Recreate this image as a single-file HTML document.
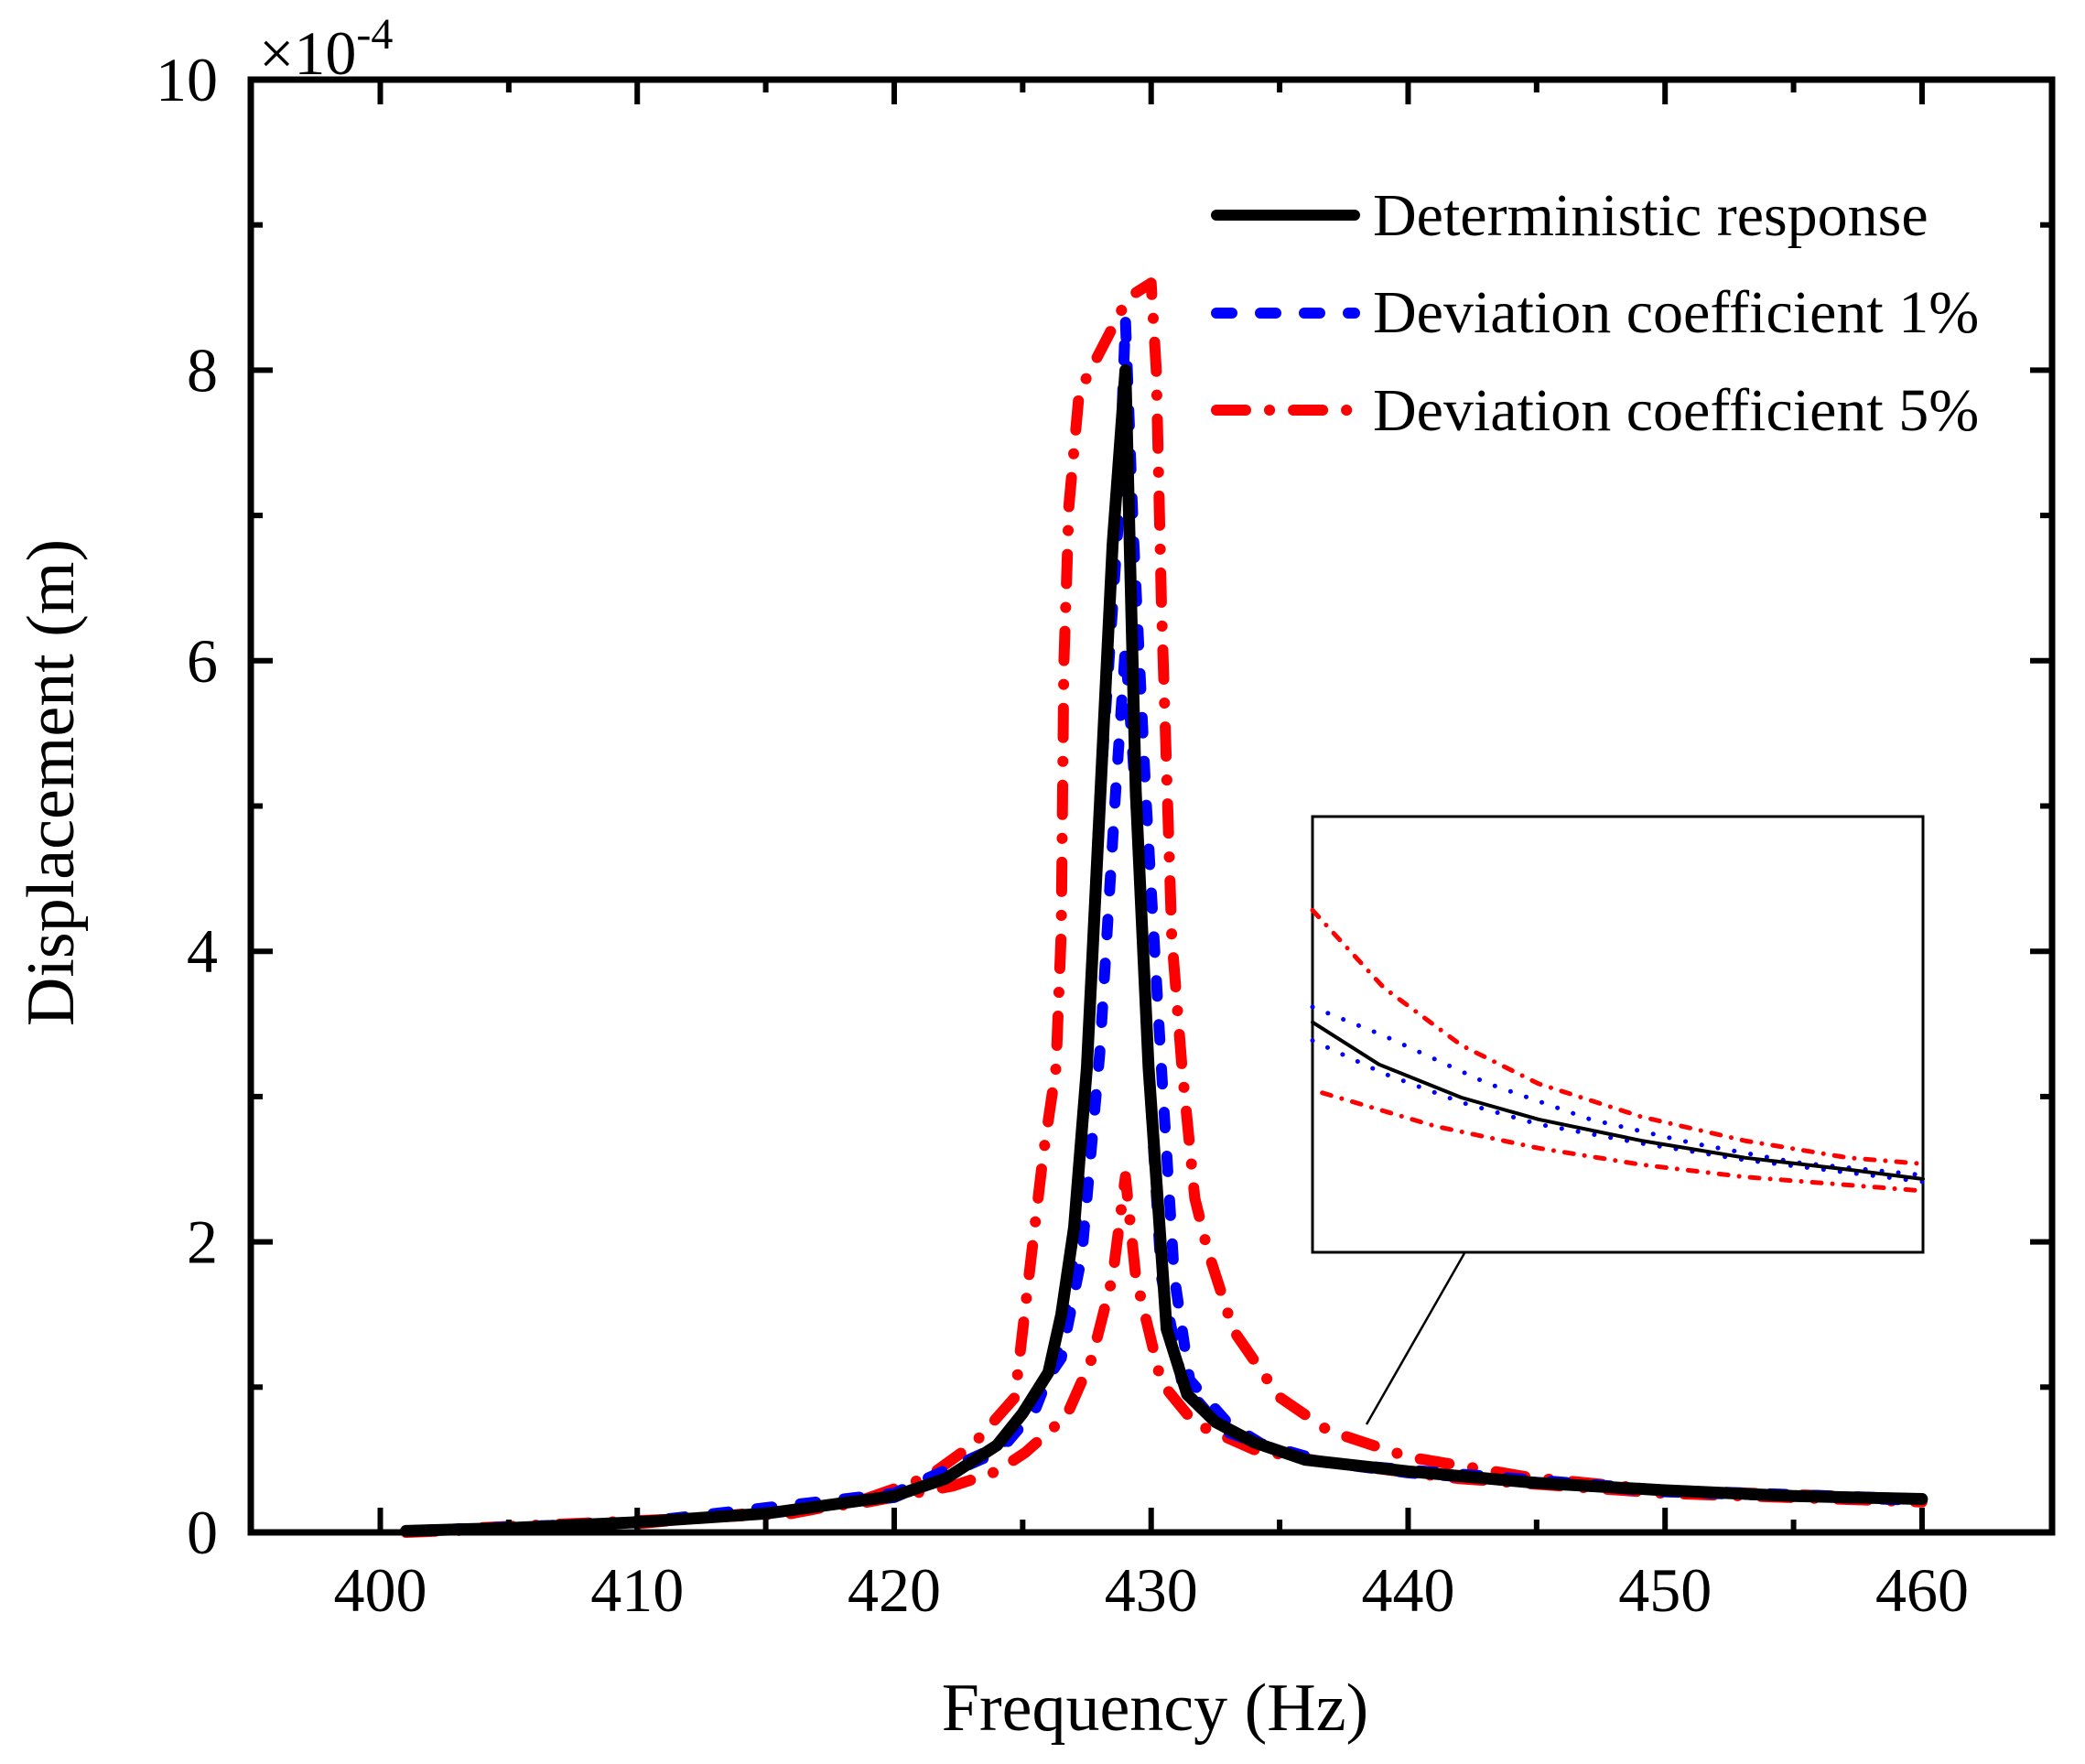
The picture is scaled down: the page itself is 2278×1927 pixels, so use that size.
<!DOCTYPE html>
<html><head><meta charset="utf-8"><style>
html,body{margin:0;padding:0;background:#fff;}
svg{display:block;font-family:"Liberation Serif",serif;}
</style></head><body>
<svg id="chart" width="2278" height="1927" viewBox="0 0 2278 1927" xmlns="http://www.w3.org/2000/svg">
<rect x="0" y="0" width="2278" height="1927" fill="#fff"/>
<g id="plot"></g>
<g id="axes"></g>
<text transform="translate(80,855) rotate(-90)" text-anchor="middle" font-size="74">Displacement (m)</text>
<text x="1262" y="1890" text-anchor="middle" font-size="74">Frequency (Hz)</text>
<text x="283" y="81" font-size="68">×10<tspan font-size="48" dy="-28">-4</tspan></text>
<g id="legend">
 <line x1="1329" y1="235" x2="1480" y2="235" stroke="#000" stroke-width="12" stroke-linecap="round"/>
 <text x="1500" y="257" font-size="66">Deterministic response</text>
 <line x1="1329" y1="342" x2="1480" y2="342" stroke="#00f" stroke-width="12" stroke-linecap="round" stroke-dasharray="17 31"/>
 <text x="1500" y="363" font-size="66">Deviation coefficient 1%</text>
 <line x1="1329" y1="448" x2="1480" y2="448" stroke="#f00" stroke-width="12" stroke-linecap="round" stroke-dasharray="32 26 0.1 26"/>
 <text x="1500" y="470" font-size="66">Deviation coefficient 5%</text>
</g>
<line x1="1493" y1="1556" x2="1600" y2="1369" stroke="#000" stroke-width="2.5"/>
<g id="inset"></g>
</svg>
<script>
// main chart data (displacement in 1e-4 m)
const detFreq = [401,405,410,415,420,422,424,425,426,426.5,427,427.5,428,428.5,429,429.4,429.9,430.6,431.4,432.5,434,436,440,445,450,455,460];
const detVal  = [0.01,0.03,0.07,0.13,0.25,0.37,0.6,0.82,1.1,1.5,2.1,3.2,5.0,6.8,8.0,5.1,3.2,1.4,0.95,0.76,0.62,0.5,0.42,0.34,0.29,0.25,0.23];
const d1UpFreq = [401,410,420,424.4,425.5,426.5,427,427.5,428,428.7,429,429.3,429.8,430.4,430.9,431.5,433,434.3,436.9,440,450,460];
const d1UpVal  = [0.01,0.07,0.27,0.62,0.85,1.3,1.9,3.2,5.05,6.9,8.35,6.9,5.05,3.2,1.76,1.05,0.75,0.61,0.48,0.43,0.29,0.23];
const d1LoFreq = [401,410,420,424,426.5,427.3,428,428.6,429,429.4,429.9,430.4,431.2,432.8,436,440,450,460];
const d1LoVal  = [0.01,0.07,0.24,0.55,1.2,1.9,3.3,5.05,6.1,5.05,3.2,1.76,1.03,0.7,0.5,0.41,0.28,0.22];
const d5UpFreq = [401,410,416,418.7,421.3,423.1,424.7,425.3,425.8,426.3,426.5,426.6,426.8,427.2,429.1,430,430.2,430.4,430.8,431.2,431.7,432.2,433.2,435,436.9,440,444.7,449.9,460];
const d5UpVal  = [0.01,0.08,0.13,0.22,0.38,0.61,0.93,1.85,2.6,3.2,4.14,5.97,7.07,7.85,8.5,8.6,8.0,6.4,4.1,3.2,2.3,1.94,1.39,0.93,0.7,0.52,0.38,0.29,0.23];
const d5LoFreq = [401,410,418.7,422.3,424,425.1,426.7,427.7,428.5,429,429.4,430.4,431.7,434,436.9,442,449.9,460];
const d5LoVal  = [0.0,0.06,0.2,0.32,0.42,0.55,0.8,1.2,1.76,2.45,1.76,1.03,0.75,0.57,0.48,0.37,0.27,0.21];
const xTicks = [400,410,420,430,440,450,460];
const yTicks = [0,2,4,6,8,10];
// inset data (normalized inset coords 0..1)
const inU = [0,0.109,0.244,0.370,0.539,0.708,0.877,1.0];
const inDet = [0.528,0.431,0.355,0.305,0.256,0.217,0.190,0.168];
const inB1U = [0,0.117,0.286,0.455,0.624,0.792,1];
const inB1V = [0.563,0.497,0.388,0.305,0.250,0.206,0.177];
const inB2U = [0,0.117,0.244,0.370,0.539,0.708,1];
const inB2V = [0.486,0.410,0.344,0.294,0.250,0.212,0.162];
const inR1U = [0,0.117,0.244,0.370,0.539,0.708,0.877,1];
const inR1V = [0.785,0.607,0.475,0.387,0.311,0.256,0.217,0.203];
const inR2U = [0.016,0.202,0.370,0.539,0.708,1];
const inR2V = [0.366,0.289,0.239,0.201,0.173,0.141];

const NS="http://www.w3.org/2000/svg";
const L=274,R=2242,T=87,B=1674,XMIN=394.96,XMAX=465.06,YMIN=0,YMAX=10;
const xs=f=>L+(f-XMIN)/(XMAX-XMIN)*(R-L);
const ys=v=>B-(v-YMIN)/(YMAX-YMIN)*(B-T);
function mk(tag,attrs,parent){const e=document.createElementNS(NS,tag);for(const k in attrs)e.setAttribute(k,attrs[k]);parent.appendChild(e);return e;}
function pathD(xa,ya,fx,fy){return xa.map((x,i)=>(i?'L':'M')+fx(x).toFixed(1)+' '+fy(ya[i]).toFixed(1)).join(' ');}
const plot=document.getElementById('plot');
function series(name,xa,ya,color,dash,w){
  const p=mk('path',{d:pathD(xa,ya,xs,ys),fill:'none',stroke:color,'stroke-width':w,'stroke-linecap':'round','stroke-linejoin':'round'},plot);
  if(dash)p.setAttribute('stroke-dasharray',dash);
  
  
}
series('dev5-upper-line',d5UpFreq,d5UpVal,'#f00','32 26 0.1 26',12);
series('dev5-lower-line',d5LoFreq,d5LoVal,'#f00','32 26 0.1 26',12);
series('dev1-upper-line',d1UpFreq,d1UpVal,'#00f','17 31',12);
series('dev1-lower-line',d1LoFreq,d1LoVal,'#00f','17 31',12);
series('deterministic-line',detFreq,detVal,'#000',null,13);

const axes=document.getElementById('axes');
const frame=mk('rect',{x:L,y:T,width:R-L,height:B-T,fill:'none',stroke:'#000','stroke-width':7},axes);


for(let f=400;f<=460;f+=5){
  const major=f%10===0, len=major?27:14, x=xs(f);
  const t1=mk('line',{x1:x,y1:B,x2:x,y2:B-len,stroke:'#000','stroke-width':6},axes);
  
  
  const t2=mk('line',{x1:x,y1:T,x2:x,y2:T+len,stroke:'#000','stroke-width':6},axes);
  
  
}
xTicks.forEach(f=>{
  const t=mk('text',{x:xs(f),y:1760,'text-anchor':'middle','font-size':68},axes);
  t.textContent=f;
  
  
});
for(let v=0;v<=10;v+=1){
  const major=v%2===0, len=major?24:13, y=ys(v);
  const t1=mk('line',{x1:L,y1:y,x2:L+len,y2:y,stroke:'#000','stroke-width':6},axes);
  
  
  const t2=mk('line',{x1:R,y1:y,x2:R-len,y2:y,stroke:'#000','stroke-width':6},axes);
  
  
}
yTicks.forEach(v=>{
  const t=mk('text',{x:238,y:ys(v)+23,'text-anchor':'end','font-size':68},axes);
  t.textContent=v;
  
  
});

// inset
const inset=document.getElementById('inset');
const IL=1434,IR=2101,IT=892,IB=1368;
const ix=u=>IL+u*(IR-IL), iy=v=>IB-v*(IB-IT);
const bg=mk('rect',{x:IL,y:IT,width:IR-IL,height:IB-IT,fill:'#fff',stroke:'#000','stroke-width':3},inset);


function iseries(name,ua,va,color,dash,w){
  const p=mk('path',{d:pathD(ua,va,ix,iy),fill:'none',stroke:color,'stroke-width':w,'stroke-linecap':'round','stroke-linejoin':'round'},inset);
  if(dash)p.setAttribute('stroke-dasharray',dash);
  
  
}
iseries('inset-dev5-upper',inR1U,inR1V,'#f00','10 12 0.1 12',5);
iseries('inset-dev5-lower',inR2U,inR2V,'#f00','10 12 0.1 12',5);
iseries('inset-dev1-upper',inB1U,inB1V,'#00f','0.1 18',5);
iseries('inset-dev1-lower',inB2U,inB2V,'#00f','0.1 18',5);
iseries('inset-deterministic',inU,inDet,'#000',null,4);
</script>
</body></html>
